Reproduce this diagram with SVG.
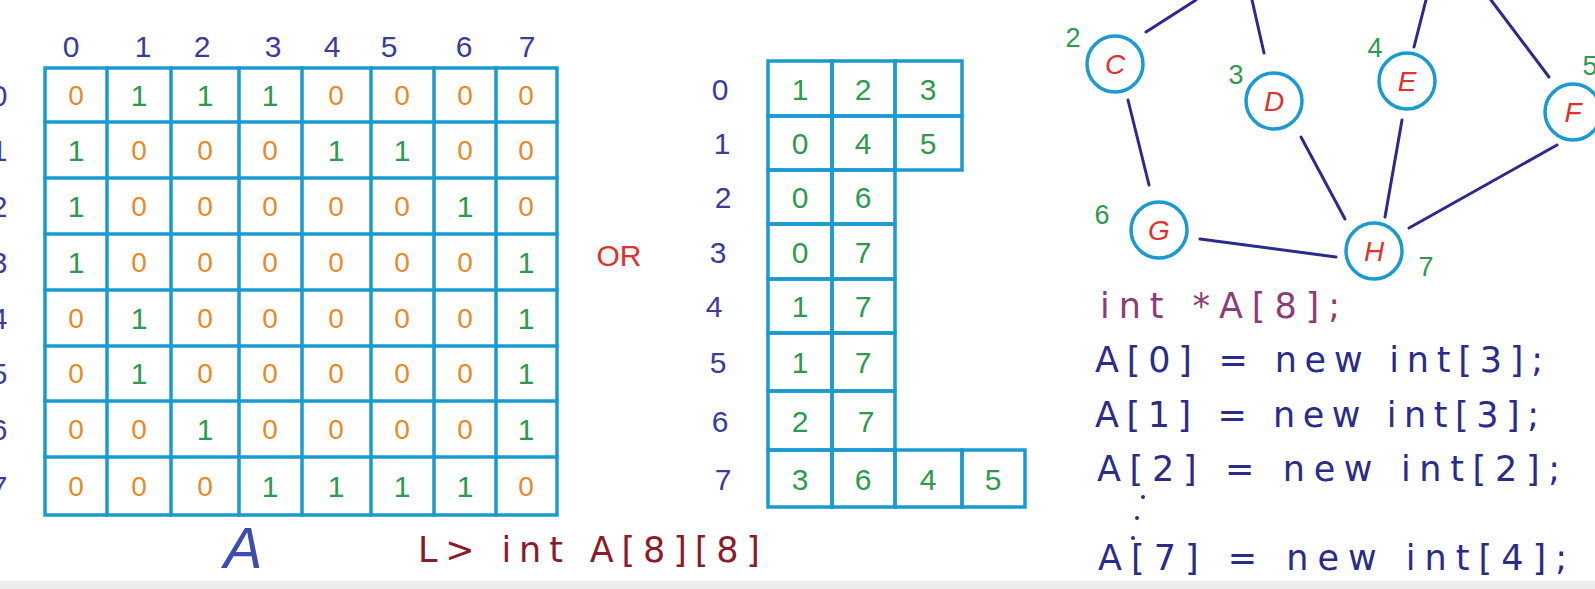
<svg xmlns="http://www.w3.org/2000/svg" width="1595" height="589" viewBox="0 0 1595 589">
<style>
text{font-family:"Liberation Sans",Arial,sans-serif;}
.grid{stroke:#1a9ad0;stroke-width:3.5;fill:none;stroke-linecap:square;}
.lbl{fill:#3b3b9b;font-size:30px;text-anchor:middle;dominant-baseline:central;}
.z{fill:#e8892a;font-size:28px;text-anchor:middle;dominant-baseline:central;}
.o{fill:#2e9a4f;font-size:30px;text-anchor:middle;dominant-baseline:central;}
.node circle{fill:#ffffff;stroke:#1a9ad0;stroke-width:3.5;}
.node text{fill:#e03030;font-size:28px;font-style:italic;text-anchor:middle;dominant-baseline:central;}
.num{fill:#2e9a4f;font-size:27px;text-anchor:middle;dominant-baseline:central;}
.edge{stroke:#2b2b8c;stroke-width:3;fill:none;stroke-linecap:round;}
.code{fill:#2b2b8c;font-size:35px;font-family:"DejaVu Sans",sans-serif;}
.dv{font-family:"DejaVu Sans",sans-serif;}
</style>
<rect x="0" y="0" width="1595" height="589" fill="#ffffff"/>
<rect x="0" y="581" width="1595" height="8" fill="#ececec"/>

<g id="matrix">
<g class="grid">
<rect x="45" y="68" width="512" height="447"/>
<path d="M107 68V515M171 68V515M239 68V515M302 68V515M371 68V515M434 68V515M496 68V515"/>
<path d="M45 122H557M45 178H557M45 234H557M45 290H557M45 346H557M45 401H557M45 457H557"/>
</g>
<g id="col-labels">
<text class="lbl" x="71" y="46">0</text><text class="lbl" x="143" y="46">1</text><text class="lbl" x="202" y="46">2</text><text class="lbl" x="273" y="46">3</text><text class="lbl" x="332" y="46">4</text><text class="lbl" x="389" y="46">5</text><text class="lbl" x="464" y="46">6</text><text class="lbl" x="527" y="46">7</text>
</g>
<g id="row-labels">
<text class="lbl" x="-1" y="95">0</text><text class="lbl" x="-1" y="150">1</text><text class="lbl" x="-1" y="206">2</text><text class="lbl" x="-1" y="262">3</text><text class="lbl" x="-1" y="318">4</text><text class="lbl" x="-1" y="373">5</text><text class="lbl" x="-1" y="429">6</text><text class="lbl" x="-1" y="486">7</text>
</g>
<g id="cells">
<text class="z" x="76" y="95">0</text><text class="o" x="139" y="95">1</text><text class="o" x="205" y="95">1</text><text class="o" x="270" y="95">1</text><text class="z" x="336" y="95">0</text><text class="z" x="402" y="95">0</text><text class="z" x="465" y="95">0</text><text class="z" x="526" y="95">0</text>
<text class="o" x="76" y="150">1</text><text class="z" x="139" y="150">0</text><text class="z" x="205" y="150">0</text><text class="z" x="270" y="150">0</text><text class="o" x="336" y="150">1</text><text class="o" x="402" y="150">1</text><text class="z" x="465" y="150">0</text><text class="z" x="526" y="150">0</text>
<text class="o" x="76" y="206">1</text><text class="z" x="139" y="206">0</text><text class="z" x="205" y="206">0</text><text class="z" x="270" y="206">0</text><text class="z" x="336" y="206">0</text><text class="z" x="402" y="206">0</text><text class="o" x="465" y="206">1</text><text class="z" x="526" y="206">0</text>
<text class="o" x="76" y="262">1</text><text class="z" x="139" y="262">0</text><text class="z" x="205" y="262">0</text><text class="z" x="270" y="262">0</text><text class="z" x="336" y="262">0</text><text class="z" x="402" y="262">0</text><text class="z" x="465" y="262">0</text><text class="o" x="526" y="262">1</text>
<text class="z" x="76" y="318">0</text><text class="o" x="139" y="318">1</text><text class="z" x="205" y="318">0</text><text class="z" x="270" y="318">0</text><text class="z" x="336" y="318">0</text><text class="z" x="402" y="318">0</text><text class="z" x="465" y="318">0</text><text class="o" x="526" y="318">1</text>
<text class="z" x="76" y="373">0</text><text class="o" x="139" y="373">1</text><text class="z" x="205" y="373">0</text><text class="z" x="270" y="373">0</text><text class="z" x="336" y="373">0</text><text class="z" x="402" y="373">0</text><text class="z" x="465" y="373">0</text><text class="o" x="526" y="373">1</text>
<text class="z" x="76" y="429">0</text><text class="z" x="139" y="429">0</text><text class="o" x="205" y="429">1</text><text class="z" x="270" y="429">0</text><text class="z" x="336" y="429">0</text><text class="z" x="402" y="429">0</text><text class="z" x="465" y="429">0</text><text class="o" x="526" y="429">1</text>
<text class="z" x="76" y="486">0</text><text class="z" x="139" y="486">0</text><text class="z" x="205" y="486">0</text><text class="o" x="270" y="486">1</text><text class="o" x="336" y="486">1</text><text class="o" x="402" y="486">1</text><text class="o" x="465" y="486">1</text><text class="z" x="526" y="486">0</text>
</g>
<text x="243" y="568" fill="#3c4cb0" font-size="58" font-style="italic" text-anchor="middle">A</text>
<text class="dv" x="418" y="562" fill="#8b1a2a" font-size="35" textLength="342" lengthAdjust="spacing">L&gt; int A[8][8]</text>
</g>

<text x="619" y="255" fill="#e03030" font-size="30" text-anchor="middle" dominant-baseline="central">OR</text>

<g id="adjlist">
<g class="grid">
<rect x="768" y="61" width="64" height="55"/><rect x="832" y="61" width="63" height="55"/><rect x="895" y="61" width="67" height="55"/>
<rect x="768" y="116" width="64" height="54"/><rect x="832" y="116" width="63" height="54"/><rect x="895" y="116" width="67" height="54"/>
<rect x="768" y="170" width="64" height="54"/><rect x="832" y="170" width="63" height="54"/>
<rect x="768" y="224" width="64" height="55"/><rect x="832" y="224" width="63" height="55"/>
<rect x="768" y="279" width="64" height="54"/><rect x="832" y="279" width="63" height="54"/>
<rect x="768" y="333" width="64" height="58"/><rect x="832" y="333" width="63" height="58"/>
<rect x="768" y="391" width="64" height="59"/><rect x="832" y="391" width="63" height="59"/>
<rect x="768" y="450" width="64" height="57"/><rect x="832" y="450" width="63" height="57"/><rect x="895" y="450" width="67" height="57"/><rect x="962" y="450" width="63" height="57"/>
</g>
<g id="adj-row-labels">
<text class="lbl" x="720" y="89">0</text><text class="lbl" x="722" y="143">1</text><text class="lbl" x="723" y="197">2</text><text class="lbl" x="718" y="252">3</text><text class="lbl" x="714" y="306">4</text><text class="lbl" x="718" y="362">5</text><text class="lbl" x="720" y="421">6</text><text class="lbl" x="723" y="479">7</text>
</g>
<g id="adj-cells">
<text class="o" x="800" y="89">1</text><text class="o" x="863" y="89">2</text><text class="o" x="928" y="89">3</text>
<text class="o" x="800" y="143">0</text><text class="o" x="863" y="143">4</text><text class="o" x="928" y="143">5</text>
<text class="o" x="800" y="197">0</text><text class="o" x="863" y="197">6</text>
<text class="o" x="800" y="252">0</text><text class="o" x="863" y="252">7</text>
<text class="o" x="800" y="306">1</text><text class="o" x="863" y="306">7</text>
<text class="o" x="800" y="362">1</text><text class="o" x="863" y="362">7</text>
<text class="o" x="800" y="421">2</text><text class="o" x="866" y="421">7</text>
<text class="o" x="800" y="479">3</text><text class="o" x="863" y="479">6</text><text class="o" x="928" y="479">4</text><text class="o" x="993" y="479">5</text>
</g>
</g>

<g id="connectors">
<line class="edge" x1="1146" y1="32" x2="1196" y2="0"/>
<line class="edge" x1="1264" y1="53" x2="1252" y2="0"/>
<line class="edge" x1="1414" y1="47" x2="1426" y2="0"/>
<line class="edge" x1="1549" y1="77" x2="1491" y2="0"/>
<line class="edge" x1="1128" y1="100" x2="1149" y2="185"/>
<line class="edge" x1="1301" y1="137" x2="1345" y2="219"/>
<line class="edge" x1="1402" y1="120" x2="1385" y2="217"/>
<line class="edge" x1="1557" y1="145" x2="1409" y2="228"/>
<line class="edge" x1="1200" y1="239" x2="1336" y2="257"/>
</g>

<g id="node-C" class="node"><circle cx="1115" cy="64" r="28"/><text x="1115" y="64">C</text></g>
<g id="node-D" class="node"><circle cx="1274" cy="101" r="28"/><text x="1274" y="101">D</text></g>
<g id="node-E" class="node"><circle cx="1407" cy="81" r="28"/><text x="1407" y="81">E</text></g>
<g id="node-F" class="node"><circle cx="1573" cy="112" r="28"/><text x="1573" y="112">F</text></g>
<g id="node-G" class="node"><circle cx="1159" cy="230" r="28"/><text x="1159" y="230">G</text></g>
<g id="node-H" class="node"><circle cx="1374" cy="251" r="28"/><text x="1374" y="251">H</text></g>
<g id="node-nums">
<text class="num" x="1073" y="38">2</text>
<text class="num" x="1236" y="75">3</text>
<text class="num" x="1375" y="48">4</text>
<text class="num" x="1590" y="66">5</text>
<text class="num" x="1102" y="215">6</text>
<text class="num" x="1426" y="267">7</text>
</g>

<g id="code">
<text class="dv" x="1100" y="318" fill="#8a3d7a" font-size="35" textLength="240" lengthAdjust="spacing">int *A[8];</text>
<text class="code" x="1095" y="372" textLength="448" lengthAdjust="spacing">A[0] = new int[3];</text>
<text class="code" x="1095" y="427" textLength="444" lengthAdjust="spacing">A[1] = new int[3];</text>
<text class="code" x="1097" y="481" textLength="463" lengthAdjust="spacing">A[2] = new int[2];</text>
<circle cx="1143" cy="497" r="2" fill="#2b2b8c"/>
<circle cx="1137" cy="518" r="2" fill="#2b2b8c"/>
<circle cx="1133" cy="538" r="2" fill="#2b2b8c"/>
<text class="code" x="1098" y="570" textLength="469" lengthAdjust="spacing">A[7] = new int[4];</text>
</g>
</svg>
